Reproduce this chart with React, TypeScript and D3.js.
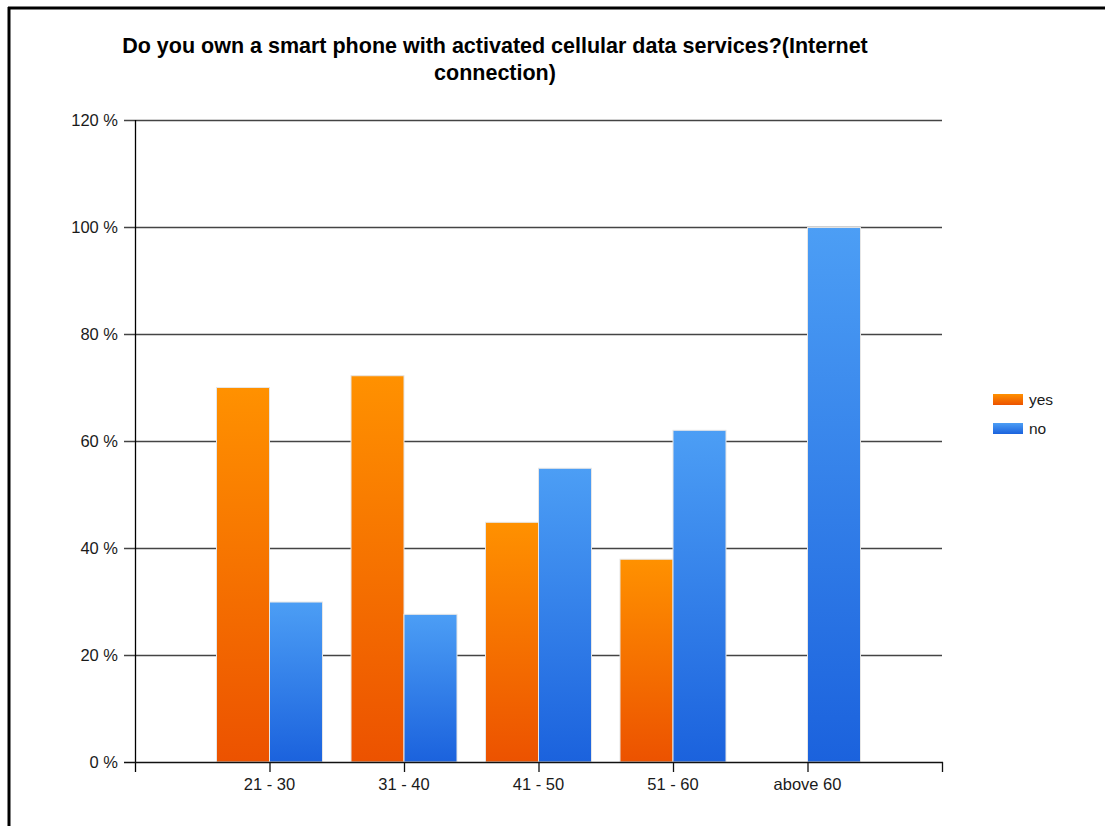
import { useEffect, useRef } from 'react';
import * as d3 from 'd3';

const categories = ['21 - 30', '31 - 40', '41 - 50', '51 - 60', 'above 60'];
const yesValues = [70, 72.2, 44.8, 37.9, 0];
const noValues = [29.9, 27.6, 54.9, 62, 99.9];
const yTicks = [0, 20, 40, 60, 80, 100, 120];
const seriesNames = ['yes', 'no'];

const W = 1105;
const H = 826;

export default function App() {
  const svgRef = useRef<SVGSVGElement>(null);

  useEffect(() => {
    if (!svgRef.current) return;
    const svg = d3.select(svgRef.current);
    svg.selectAll('*').remove();

    const left = 135;
    const right = 942;
    const top = 120;
    const bottom = 762;
    const font = 'Arial, "Liberation Sans", sans-serif';

    const defs = svg.append('defs');
    const grads = [
      { id: 'g-yes', top: '#ff9100', bottom: '#ec5200' },
      { id: 'g-no', top: '#4c9ef5', bottom: '#1b62dd' }
    ];
    grads.forEach(g => {
      const lg = defs.append('linearGradient')
        .attr('id', g.id)
        .attr('x1', 0).attr('y1', 0).attr('x2', 0).attr('y2', 1);
      lg.append('stop').attr('offset', '0%').attr('stop-color', g.top);
      lg.append('stop').attr('offset', '100%').attr('stop-color', g.bottom);
    });

    // frame (top and left edges only)
    svg.append('line').attr('x1', 8).attr('x2', W).attr('y1', 8).attr('y2', 8)
      .attr('stroke', '#000').attr('stroke-width', 3);
    svg.append('line').attr('x1', 9).attr('x2', 9).attr('y1', 7).attr('y2', H)
      .attr('stroke', '#000').attr('stroke-width', 3);

    // title
    const title = svg.append('text')
      .attr('text-anchor', 'middle')
      .attr('font-family', font)
      .attr('font-size', 21.5)
      .attr('font-weight', 'bold')
      .attr('fill', '#000');
    title.append('tspan').attr('x', 495).attr('y', 53)
      .text('Do you own a smart phone with activated cellular data services?(Internet');
    title.append('tspan').attr('x', 495).attr('y', 80).text('connection)');

    const x = d3.scalePoint<string>().domain(categories).range([left, right]).padding(1);
    const y = d3.scaleLinear().domain([0, 120]).range([bottom, top]);
    const barW = 53;

    // grid
    svg.append('g')
      .selectAll('line')
      .data(yTicks.filter(t => t > 0))
      .enter()
      .append('line')
      .attr('x1', left - 11)
      .attr('x2', right)
      .attr('y1', d => y(d) + 0.5)
      .attr('y2', d => y(d) + 0.5)
      .attr('stroke', '#444')
      .attr('stroke-width', 1.5);

    // y labels
    svg.append('g')
      .selectAll('text')
      .data(yTicks)
      .enter()
      .append('text')
      .attr('x', 118)
      .attr('y', d => y(d) + 6)
      .attr('text-anchor', 'end')
      .attr('font-family', font)
      .attr('font-size', 16.5)
      .attr('fill', '#1a1a1a')
      .text(d => `${d} %`);

    // bars
    const series = [yesValues, noValues];
    series.forEach((vals, si) => {
      svg.append('g')
        .selectAll('rect')
        .data(vals.map((v, i) => ({ v, c: categories[i] })).filter(d => d.v > 0))
        .enter()
        .append('rect')
        .attr('x', d => (x(d.c) as number) + (si === 0 ? -barW : 0))
        .attr('y', d => y(d.v))
        .attr('width', barW)
        .attr('height', d => bottom - y(d.v))
        .attr('fill', `url(#g-${seriesNames[si]})`)
        .attr('stroke', '#e6e6e6')
        .attr('stroke-width', 1);
    });

    // axes
    svg.append('line').attr('x1', left + 0.5).attr('x2', left + 0.5).attr('y1', top).attr('y2', bottom + 10)
      .attr('stroke', '#000').attr('stroke-width', 1.3);
    svg.append('line').attr('x1', left - 11).attr('x2', right + 1).attr('y1', bottom + 0.5).attr('y2', bottom + 0.5)
      .attr('stroke', '#111').attr('stroke-width', 1.5);
    const xTickPos = [...categories.map(c => x(c) as number), right];
    svg.append('g')
      .selectAll('line')
      .data(xTickPos)
      .enter()
      .append('line')
      .attr('x1', d => d + 0.5)
      .attr('x2', d => d + 0.5)
      .attr('y1', bottom)
      .attr('y2', bottom + 10)
      .attr('stroke', '#111')
      .attr('stroke-width', 1.3);

    svg.append('g')
      .selectAll('text')
      .data(categories)
      .enter()
      .append('text')
      .attr('x', d => x(d) as number)
      .attr('y', bottom + 28)
      .attr('text-anchor', 'middle')
      .attr('font-family', font)
      .attr('font-size', 16.5)
      .attr('fill', '#1a1a1a')
      .text(d => d);

    // legend
    const legend = svg.append('g');
    seriesNames.forEach((name, i) => {
      const ly = 394 + i * 29;
      legend.append('rect')
        .attr('x', 993).attr('y', ly).attr('width', 30).attr('height', 11)
        .attr('fill', `url(#g-${name})`);
      legend.append('text')
        .attr('x', 1029).attr('y', ly + 11)
        .attr('font-family', font)
        .attr('font-size', 15.5)
        .attr('fill', '#1a1a1a')
        .text(name);
    });
  }, []);

  return (
    <svg
      ref={svgRef}
      width={W}
      height={H}
      style={{ position: 'absolute', left: 0, top: 0, background: '#fff' }}
    />
  );
}
